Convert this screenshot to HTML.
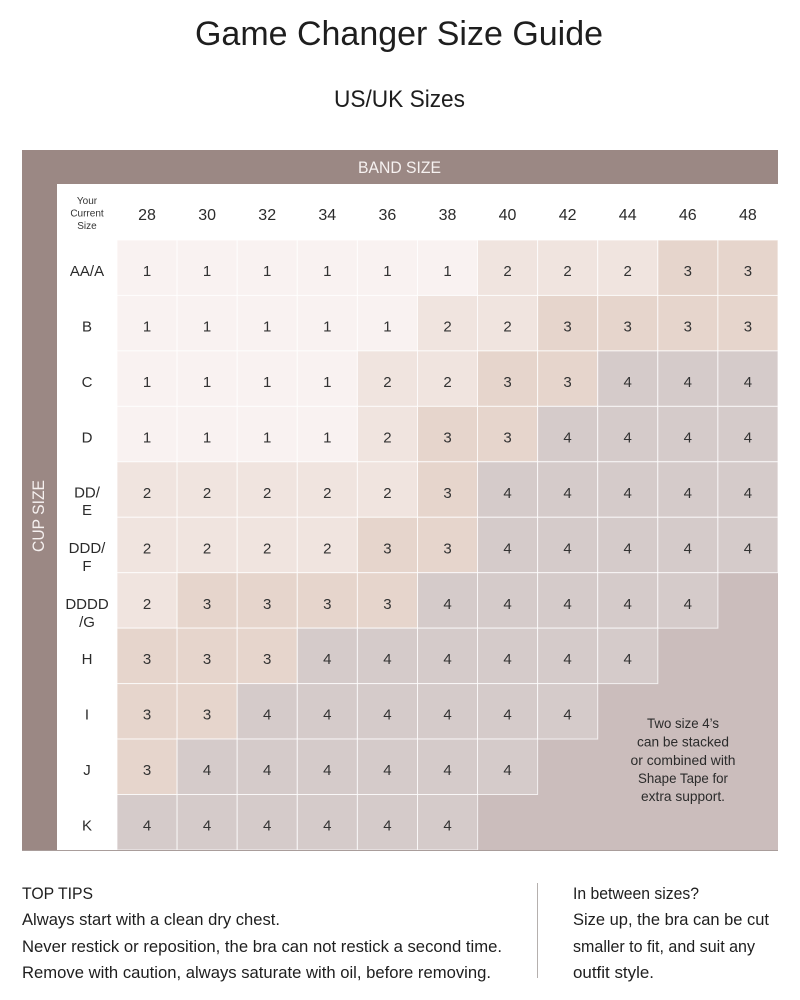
<!DOCTYPE html>
<html><head><meta charset="utf-8"><style>
html,body{margin:0;padding:0;background:#fff;}
svg{display:block;}
text{font-family:"Liberation Sans",sans-serif;}
.c1{fill:#f9f2f1}.c2{fill:#f0e4df}.c3{fill:#e6d5cc}.c4{fill:#d5cbca}
.g rect{stroke:#ffffff;stroke-opacity:.75;stroke-width:1;}
.n text{font-size:15px;fill:#333;text-anchor:middle;}
</style></head><body>
<svg width="800" height="1000" viewBox="0 0 800 1000" xmlns="http://www.w3.org/2000/svg">
<rect width="800" height="1000" fill="#fff"/>
<text x="399" y="45" font-size="34" fill="#1e1e1e" text-anchor="middle" textLength="408" lengthAdjust="spacingAndGlyphs">Game Changer Size Guide</text>
<text x="399.5" y="107" font-size="24" fill="#1e1e1e" text-anchor="middle" textLength="131" lengthAdjust="spacingAndGlyphs">US/UK Sizes</text>

<rect x="22" y="150" width="756" height="34" fill="#9b8884"/>
<rect x="22" y="150" width="35" height="700" fill="#9b8884"/>
<text x="399.5" y="173" font-size="17" fill="#f6f1f0" text-anchor="middle" textLength="83" lengthAdjust="spacingAndGlyphs">BAND SIZE</text>
<text transform="translate(44,516) rotate(-90)" x="0" y="0" font-size="17" fill="#f6f1f0" text-anchor="middle" textLength="72" lengthAdjust="spacingAndGlyphs">CUP SIZE</text>

<g font-size="10" fill="#333" text-anchor="middle">
<text x="87" y="204">Your</text><text x="87" y="216.5">Current</text><text x="87" y="229">Size</text>
</g>
<g font-size="16" fill="#2b2b2b" text-anchor="middle">
<text x="147" y="220">28</text><text x="207.1" y="220">30</text><text x="267.2" y="220">32</text><text x="327.3" y="220">34</text><text x="387.4" y="220">36</text><text x="447.5" y="220">38</text><text x="507.5" y="220">40</text><text x="567.6" y="220">42</text><text x="627.7" y="220">44</text><text x="687.8" y="220">46</text><text x="747.9" y="220">48</text>
</g>
<g font-size="15" fill="#2b2b2b" text-anchor="middle">
<text x="87" y="276">AA/A</text>
<text x="87" y="331.5">B</text>
<text x="87" y="387">C</text>
<text x="87" y="442.4">D</text>
<text x="87" y="497.5">DD/</text><text x="87" y="515">E</text>
<text x="87" y="553">DDD/</text><text x="87" y="571">F</text>
<text x="87" y="609">DDDD</text><text x="87" y="627">/G</text>
<text x="87" y="664.2">H</text>
<text x="87" y="719.7">I</text>
<text x="87" y="775.1">J</text>
<text x="87" y="830.6">K</text>
</g>

<rect x="477.5" y="572.7" width="300.5" height="277.3" fill="#cbbdbc"/>

<g class="g">
<g transform="translate(0,240)">
<rect class="c1" x="117" y="0" width="60.1" height="55.45"/><rect class="c1" x="177.1" y="0" width="60.1" height="55.45"/><rect class="c1" x="237.2" y="0" width="60.1" height="55.45"/><rect class="c1" x="297.3" y="0" width="60.1" height="55.45"/><rect class="c1" x="357.4" y="0" width="60.1" height="55.45"/><rect class="c1" x="417.5" y="0" width="60.1" height="55.45"/><rect class="c2" x="477.5" y="0" width="60.1" height="55.45"/><rect class="c2" x="537.6" y="0" width="60.1" height="55.45"/><rect class="c2" x="597.7" y="0" width="60.1" height="55.45"/><rect class="c3" x="657.8" y="0" width="60.1" height="55.45"/><rect class="c3" x="717.9" y="0" width="60.1" height="55.45"/>
</g>
<g transform="translate(0,295.45)">
<rect class="c1" x="117" y="0" width="60.1" height="55.45"/><rect class="c1" x="177.1" y="0" width="60.1" height="55.45"/><rect class="c1" x="237.2" y="0" width="60.1" height="55.45"/><rect class="c1" x="297.3" y="0" width="60.1" height="55.45"/><rect class="c1" x="357.4" y="0" width="60.1" height="55.45"/><rect class="c2" x="417.5" y="0" width="60.1" height="55.45"/><rect class="c2" x="477.5" y="0" width="60.1" height="55.45"/><rect class="c3" x="537.6" y="0" width="60.1" height="55.45"/><rect class="c3" x="597.7" y="0" width="60.1" height="55.45"/><rect class="c3" x="657.8" y="0" width="60.1" height="55.45"/><rect class="c3" x="717.9" y="0" width="60.1" height="55.45"/>
</g>
<g transform="translate(0,350.9)">
<rect class="c1" x="117" y="0" width="60.1" height="55.45"/><rect class="c1" x="177.1" y="0" width="60.1" height="55.45"/><rect class="c1" x="237.2" y="0" width="60.1" height="55.45"/><rect class="c1" x="297.3" y="0" width="60.1" height="55.45"/><rect class="c2" x="357.4" y="0" width="60.1" height="55.45"/><rect class="c2" x="417.5" y="0" width="60.1" height="55.45"/><rect class="c3" x="477.5" y="0" width="60.1" height="55.45"/><rect class="c3" x="537.6" y="0" width="60.1" height="55.45"/><rect class="c4" x="597.7" y="0" width="60.1" height="55.45"/><rect class="c4" x="657.8" y="0" width="60.1" height="55.45"/><rect class="c4" x="717.9" y="0" width="60.1" height="55.45"/>
</g>
<g transform="translate(0,406.35)">
<rect class="c1" x="117" y="0" width="60.1" height="55.45"/><rect class="c1" x="177.1" y="0" width="60.1" height="55.45"/><rect class="c1" x="237.2" y="0" width="60.1" height="55.45"/><rect class="c1" x="297.3" y="0" width="60.1" height="55.45"/><rect class="c2" x="357.4" y="0" width="60.1" height="55.45"/><rect class="c3" x="417.5" y="0" width="60.1" height="55.45"/><rect class="c3" x="477.5" y="0" width="60.1" height="55.45"/><rect class="c4" x="537.6" y="0" width="60.1" height="55.45"/><rect class="c4" x="597.7" y="0" width="60.1" height="55.45"/><rect class="c4" x="657.8" y="0" width="60.1" height="55.45"/><rect class="c4" x="717.9" y="0" width="60.1" height="55.45"/>
</g>
<g transform="translate(0,461.8)">
<rect class="c2" x="117" y="0" width="60.1" height="55.45"/><rect class="c2" x="177.1" y="0" width="60.1" height="55.45"/><rect class="c2" x="237.2" y="0" width="60.1" height="55.45"/><rect class="c2" x="297.3" y="0" width="60.1" height="55.45"/><rect class="c2" x="357.4" y="0" width="60.1" height="55.45"/><rect class="c3" x="417.5" y="0" width="60.1" height="55.45"/><rect class="c4" x="477.5" y="0" width="60.1" height="55.45"/><rect class="c4" x="537.6" y="0" width="60.1" height="55.45"/><rect class="c4" x="597.7" y="0" width="60.1" height="55.45"/><rect class="c4" x="657.8" y="0" width="60.1" height="55.45"/><rect class="c4" x="717.9" y="0" width="60.1" height="55.45"/>
</g>
<g transform="translate(0,517.25)">
<rect class="c2" x="117" y="0" width="60.1" height="55.45"/><rect class="c2" x="177.1" y="0" width="60.1" height="55.45"/><rect class="c2" x="237.2" y="0" width="60.1" height="55.45"/><rect class="c2" x="297.3" y="0" width="60.1" height="55.45"/><rect class="c3" x="357.4" y="0" width="60.1" height="55.45"/><rect class="c3" x="417.5" y="0" width="60.1" height="55.45"/><rect class="c4" x="477.5" y="0" width="60.1" height="55.45"/><rect class="c4" x="537.6" y="0" width="60.1" height="55.45"/><rect class="c4" x="597.7" y="0" width="60.1" height="55.45"/><rect class="c4" x="657.8" y="0" width="60.1" height="55.45"/><rect class="c4" x="717.9" y="0" width="60.1" height="55.45"/>
</g>
<g transform="translate(0,572.7)">
<rect class="c2" x="117" y="0" width="60.1" height="55.45"/><rect class="c3" x="177.1" y="0" width="60.1" height="55.45"/><rect class="c3" x="237.2" y="0" width="60.1" height="55.45"/><rect class="c3" x="297.3" y="0" width="60.1" height="55.45"/><rect class="c3" x="357.4" y="0" width="60.1" height="55.45"/><rect class="c4" x="417.5" y="0" width="60.1" height="55.45"/><rect class="c4" x="477.5" y="0" width="60.1" height="55.45"/><rect class="c4" x="537.6" y="0" width="60.1" height="55.45"/><rect class="c4" x="597.7" y="0" width="60.1" height="55.45"/><rect class="c4" x="657.8" y="0" width="60.1" height="55.45"/>
</g>
<g transform="translate(0,628.15)">
<rect class="c3" x="117" y="0" width="60.1" height="55.45"/><rect class="c3" x="177.1" y="0" width="60.1" height="55.45"/><rect class="c3" x="237.2" y="0" width="60.1" height="55.45"/><rect class="c4" x="297.3" y="0" width="60.1" height="55.45"/><rect class="c4" x="357.4" y="0" width="60.1" height="55.45"/><rect class="c4" x="417.5" y="0" width="60.1" height="55.45"/><rect class="c4" x="477.5" y="0" width="60.1" height="55.45"/><rect class="c4" x="537.6" y="0" width="60.1" height="55.45"/><rect class="c4" x="597.7" y="0" width="60.1" height="55.45"/>
</g>
<g transform="translate(0,683.6)">
<rect class="c3" x="117" y="0" width="60.1" height="55.45"/><rect class="c3" x="177.1" y="0" width="60.1" height="55.45"/><rect class="c4" x="237.2" y="0" width="60.1" height="55.45"/><rect class="c4" x="297.3" y="0" width="60.1" height="55.45"/><rect class="c4" x="357.4" y="0" width="60.1" height="55.45"/><rect class="c4" x="417.5" y="0" width="60.1" height="55.45"/><rect class="c4" x="477.5" y="0" width="60.1" height="55.45"/><rect class="c4" x="537.6" y="0" width="60.1" height="55.45"/>
</g>
<g transform="translate(0,739.05)">
<rect class="c3" x="117" y="0" width="60.1" height="55.45"/><rect class="c4" x="177.1" y="0" width="60.1" height="55.45"/><rect class="c4" x="237.2" y="0" width="60.1" height="55.45"/><rect class="c4" x="297.3" y="0" width="60.1" height="55.45"/><rect class="c4" x="357.4" y="0" width="60.1" height="55.45"/><rect class="c4" x="417.5" y="0" width="60.1" height="55.45"/><rect class="c4" x="477.5" y="0" width="60.1" height="55.45"/>
</g>
<g transform="translate(0,794.5)">
<rect class="c4" x="117" y="0" width="60.1" height="55.5"/><rect class="c4" x="177.1" y="0" width="60.1" height="55.5"/><rect class="c4" x="237.2" y="0" width="60.1" height="55.5"/><rect class="c4" x="297.3" y="0" width="60.1" height="55.5"/><rect class="c4" x="357.4" y="0" width="60.1" height="55.5"/><rect class="c4" x="417.5" y="0" width="60.1" height="55.5"/>
</g>
</g>

<g class="n">
<g transform="translate(0,276)"><text x="147">1</text><text x="207.1">1</text><text x="267.2">1</text><text x="327.3">1</text><text x="387.4">1</text><text x="447.5">1</text><text x="507.5">2</text><text x="567.6">2</text><text x="627.7">2</text><text x="687.8">3</text><text x="747.9">3</text></g>
<g transform="translate(0,331.5)"><text x="147">1</text><text x="207.1">1</text><text x="267.2">1</text><text x="327.3">1</text><text x="387.4">1</text><text x="447.5">2</text><text x="507.5">2</text><text x="567.6">3</text><text x="627.7">3</text><text x="687.8">3</text><text x="747.9">3</text></g>
<g transform="translate(0,387)"><text x="147">1</text><text x="207.1">1</text><text x="267.2">1</text><text x="327.3">1</text><text x="387.4">2</text><text x="447.5">2</text><text x="507.5">3</text><text x="567.6">3</text><text x="627.7">4</text><text x="687.8">4</text><text x="747.9">4</text></g>
<g transform="translate(0,442.4)"><text x="147">1</text><text x="207.1">1</text><text x="267.2">1</text><text x="327.3">1</text><text x="387.4">2</text><text x="447.5">3</text><text x="507.5">3</text><text x="567.6">4</text><text x="627.7">4</text><text x="687.8">4</text><text x="747.9">4</text></g>
<g transform="translate(0,497.8)"><text x="147">2</text><text x="207.1">2</text><text x="267.2">2</text><text x="327.3">2</text><text x="387.4">2</text><text x="447.5">3</text><text x="507.5">4</text><text x="567.6">4</text><text x="627.7">4</text><text x="687.8">4</text><text x="747.9">4</text></g>
<g transform="translate(0,553.3)"><text x="147">2</text><text x="207.1">2</text><text x="267.2">2</text><text x="327.3">2</text><text x="387.4">3</text><text x="447.5">3</text><text x="507.5">4</text><text x="567.6">4</text><text x="627.7">4</text><text x="687.8">4</text><text x="747.9">4</text></g>
<g transform="translate(0,608.8)"><text x="147">2</text><text x="207.1">3</text><text x="267.2">3</text><text x="327.3">3</text><text x="387.4">3</text><text x="447.5">4</text><text x="507.5">4</text><text x="567.6">4</text><text x="627.7">4</text><text x="687.8">4</text></g>
<g transform="translate(0,664.2)"><text x="147">3</text><text x="207.1">3</text><text x="267.2">3</text><text x="327.3">4</text><text x="387.4">4</text><text x="447.5">4</text><text x="507.5">4</text><text x="567.6">4</text><text x="627.7">4</text></g>
<g transform="translate(0,719.7)"><text x="147">3</text><text x="207.1">3</text><text x="267.2">4</text><text x="327.3">4</text><text x="387.4">4</text><text x="447.5">4</text><text x="507.5">4</text><text x="567.6">4</text></g>
<g transform="translate(0,775.1)"><text x="147">3</text><text x="207.1">4</text><text x="267.2">4</text><text x="327.3">4</text><text x="387.4">4</text><text x="447.5">4</text><text x="507.5">4</text></g>
<g transform="translate(0,830.6)"><text x="147">4</text><text x="207.1">4</text><text x="267.2">4</text><text x="327.3">4</text><text x="387.4">4</text><text x="447.5">4</text></g>
</g>

<g font-size="14" fill="#2b2b2b" text-anchor="middle">
<text x="683" y="728" textLength="72" lengthAdjust="spacingAndGlyphs">Two size 4’s</text>
<text x="683" y="746.5" textLength="92" lengthAdjust="spacingAndGlyphs">can be stacked</text>
<text x="683" y="765" textLength="105" lengthAdjust="spacingAndGlyphs">or combined with</text>
<text x="683" y="783" textLength="90" lengthAdjust="spacingAndGlyphs">Shape Tape for</text>
<text x="683" y="801" textLength="84" lengthAdjust="spacingAndGlyphs">extra support.</text>
</g>

<line x1="22" y1="850.5" x2="778" y2="850.5" stroke="#a99d9b" stroke-width="1"/>

<g font-size="17" fill="#1e1e1e">
<text x="22" y="899" textLength="71" lengthAdjust="spacingAndGlyphs">TOP TIPS</text>
<text x="22" y="925" textLength="258" lengthAdjust="spacingAndGlyphs">Always start with a clean dry chest.</text>
<text x="22" y="952" textLength="480" lengthAdjust="spacingAndGlyphs">Never restick or reposition, the bra can not restick a second time.</text>
<text x="22" y="978" textLength="469" lengthAdjust="spacingAndGlyphs">Remove with caution, always saturate with oil, before removing.</text>
<text x="573" y="899" textLength="126" lengthAdjust="spacingAndGlyphs">In between sizes?</text>
<text x="573" y="925" textLength="196" lengthAdjust="spacingAndGlyphs">Size up, the bra can be cut</text>
<text x="573" y="952" textLength="182" lengthAdjust="spacingAndGlyphs">smaller to fit, and suit any</text>
<text x="573" y="978" textLength="81" lengthAdjust="spacingAndGlyphs">outfit style.</text>
</g>
<line x1="537.5" y1="883" x2="537.5" y2="978" stroke="#b5b0ae" stroke-width="1"/>
</svg>
</body></html>
